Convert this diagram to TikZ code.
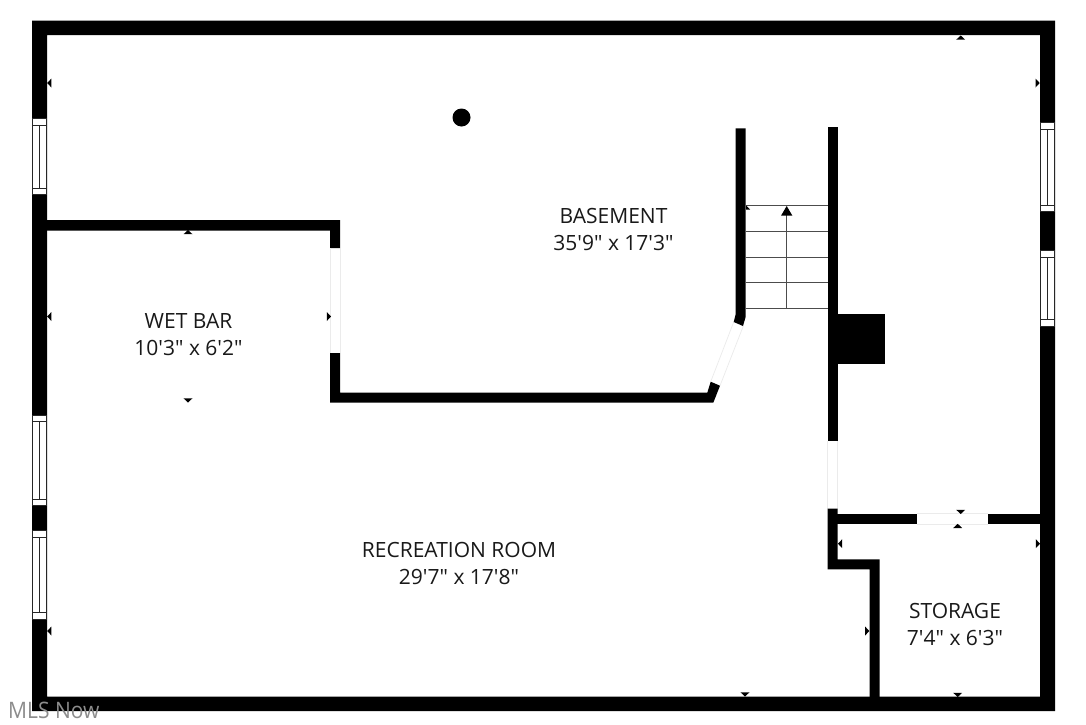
\documentclass[tikz,border=0pt]{standalone}
\usepackage{fontspec}
\newfontfamily\plainsans{Open Sans}
\tikzset{
  wall/.style={fill=black,draw=none},
  pale/.style={draw=black!8,line width=0.7pt},
  winline/.style={draw=black!85,line width=0.8pt},
  tread/.style={draw=black!70,line width=0.9pt},
  tick/.style={fill=black,draw=none},
  room/.style={align=center,font=\plainsans\fontsize{21}{26.8}\selectfont,text=black!90,inner sep=0pt},
}
\newcommand\winV[6]{% x1 x2 y1 y2 bar1 bar2
  \fill[white] (#1,#3) rectangle (#2,#4);
  \draw[winline] (#1,#3) rectangle (#2,#4);
  \draw[winline] (#1,#5) -- (#2,#5) (#1,#6) -- (#2,#6);
  \draw[winline] ({(#1+#2)/2},#5) -- ({(#1+#2)/2},#6);
}
\newcommand\tU[2]{\fill[tick] (#1,#2) -- ++(4.5,4.2) -- ++(-9,0) -- cycle;}
\newcommand\tD[2]{\fill[tick] (#1,#2) -- ++(4.5,-4.2) -- ++(-9,0) -- cycle;}
\newcommand\tL[2]{\fill[tick] (#1,#2) -- ++(4.2,4.5) -- ++(0,-9) -- cycle;}
\newcommand\tR[2]{\fill[tick] (#1,#2) -- ++(-4.2,4.5) -- ++(0,-9) -- cycle;}
\begin{document}
\begin{tikzpicture}[x=1pt,y=-1pt]
\useasboundingbox[fill=white] (0,0) rectangle (1086,724);
% outer walls
\fill[wall,even odd rule] (32,20.5) rectangle (1055,711) (47,35) rectangle (1040,696.7);
% windows
\winV{32.5}{46.5}{118}{194}{125}{188}
\winV{32.5}{46.5}{415}{505}{421.7}{499}
\winV{32.5}{46.5}{530}{619}{537}{612}
\winV{1040.5}{1054.5}{122.7}{211.7}{129.5}{205}
\winV{1040.5}{1054.5}{250}{326}{257}{319}
% wet bar walls
\fill[wall] (47,220) -- (340,220) -- (340,248) -- (330,248) -- (330,230.5) -- (47,230.5) -- cycle;
\fill[wall] (330,353) -- (340,353) -- (340,392.7) -- (707.3,392.7) -- (710.7,381.7) -- (720,385.7) -- (713.3,402.7) -- (330,402.7) -- cycle;
\draw[pale] (330,248) -- (330,353) (340,248) -- (340,353);
% angled door
\draw[pale] (733.7,322) -- (710.7,381.7) (743.3,326) -- (720,385.7);
% stair walls
\fill[wall] (735.7,128.3) -- (745.7,128.3) -- (745.7,316.7) -- (743,326) -- (733.7,322) -- (735.7,314) -- cycle;
\fill[wall] (827.7,127.3) rectangle (837.7,441);
\fill[wall] (837,314.3) rectangle (884.7,364.3);
% stairs
\foreach \yy in {205.7,231.3,257,282.7,308.7} \draw[tread] (745.7,\yy) -- (827.7,\yy);
\draw[tread] (786.7,308.7) -- (786.7,214);
\fill[tick] (786.7,206) -- (792.4,215.7) -- (781,215.7) -- cycle;
% right door and storage walls
\draw[pale] (827.7,441) -- (827.7,509) (837.7,441) -- (837.7,509);
\fill[wall] (827.7,508.7) -- (837.7,508.7) -- (837.7,559.3) -- (879.7,559.3) -- (879.7,697) -- (869.7,697) -- (869.7,569.3) -- (827.7,569.3) -- cycle;
\fill[wall] (837,513.7) rectangle (916.7,524);
\fill[wall] (988.3,513.7) rectangle (1040.5,524);
\draw[pale] (916.7,513.7) -- (988.3,513.7) (916.7,524) -- (988.3,524);
% column
\fill[black] (461.5,117.5) circle (9);
% dimension ticks
\tU{960.7}{35.5}
\tL{47.2}{83}
\tR{1039.7}{83}
\tU{188}{230}
\tL{47.2}{316.5}
\tR{331}{316.5}
\tD{188}{402.5}
\tL{47.2}{631}
\tD{745}{696.5}
\tR{869.3}{631}
\tD{957.7}{697}
\tD{960.7}{514}
\tU{957.7}{523.8}
\tL{838}{543.7}
\tR{1040}{543.7}
\fill[tick] (746,205.5) -- (750,209.5) -- (746,209.5) -- cycle;
% labels
\node[room] (basement) at (613.5,229.8) {BASEMENT\\35'9" x 17'3"};
\node[room] (wetbar) at (188.5,334.3) {WET BAR\\10'3" x 6'2"};
\node[room] (rec) at (459,563.3) {RECREATION ROOM\\29'7" x 17'8"};
\node[room] (storage) at (955,624.3) {STORAGE\\7'4" x 6'3"};
\node[font=\plainsans\fontsize{21}{21}\selectfont,text=black!45,inner sep=0pt,anchor=west,yscale=1.08] (mls) at (8,710) {MLS Now};
\end{tikzpicture}
\end{document}
